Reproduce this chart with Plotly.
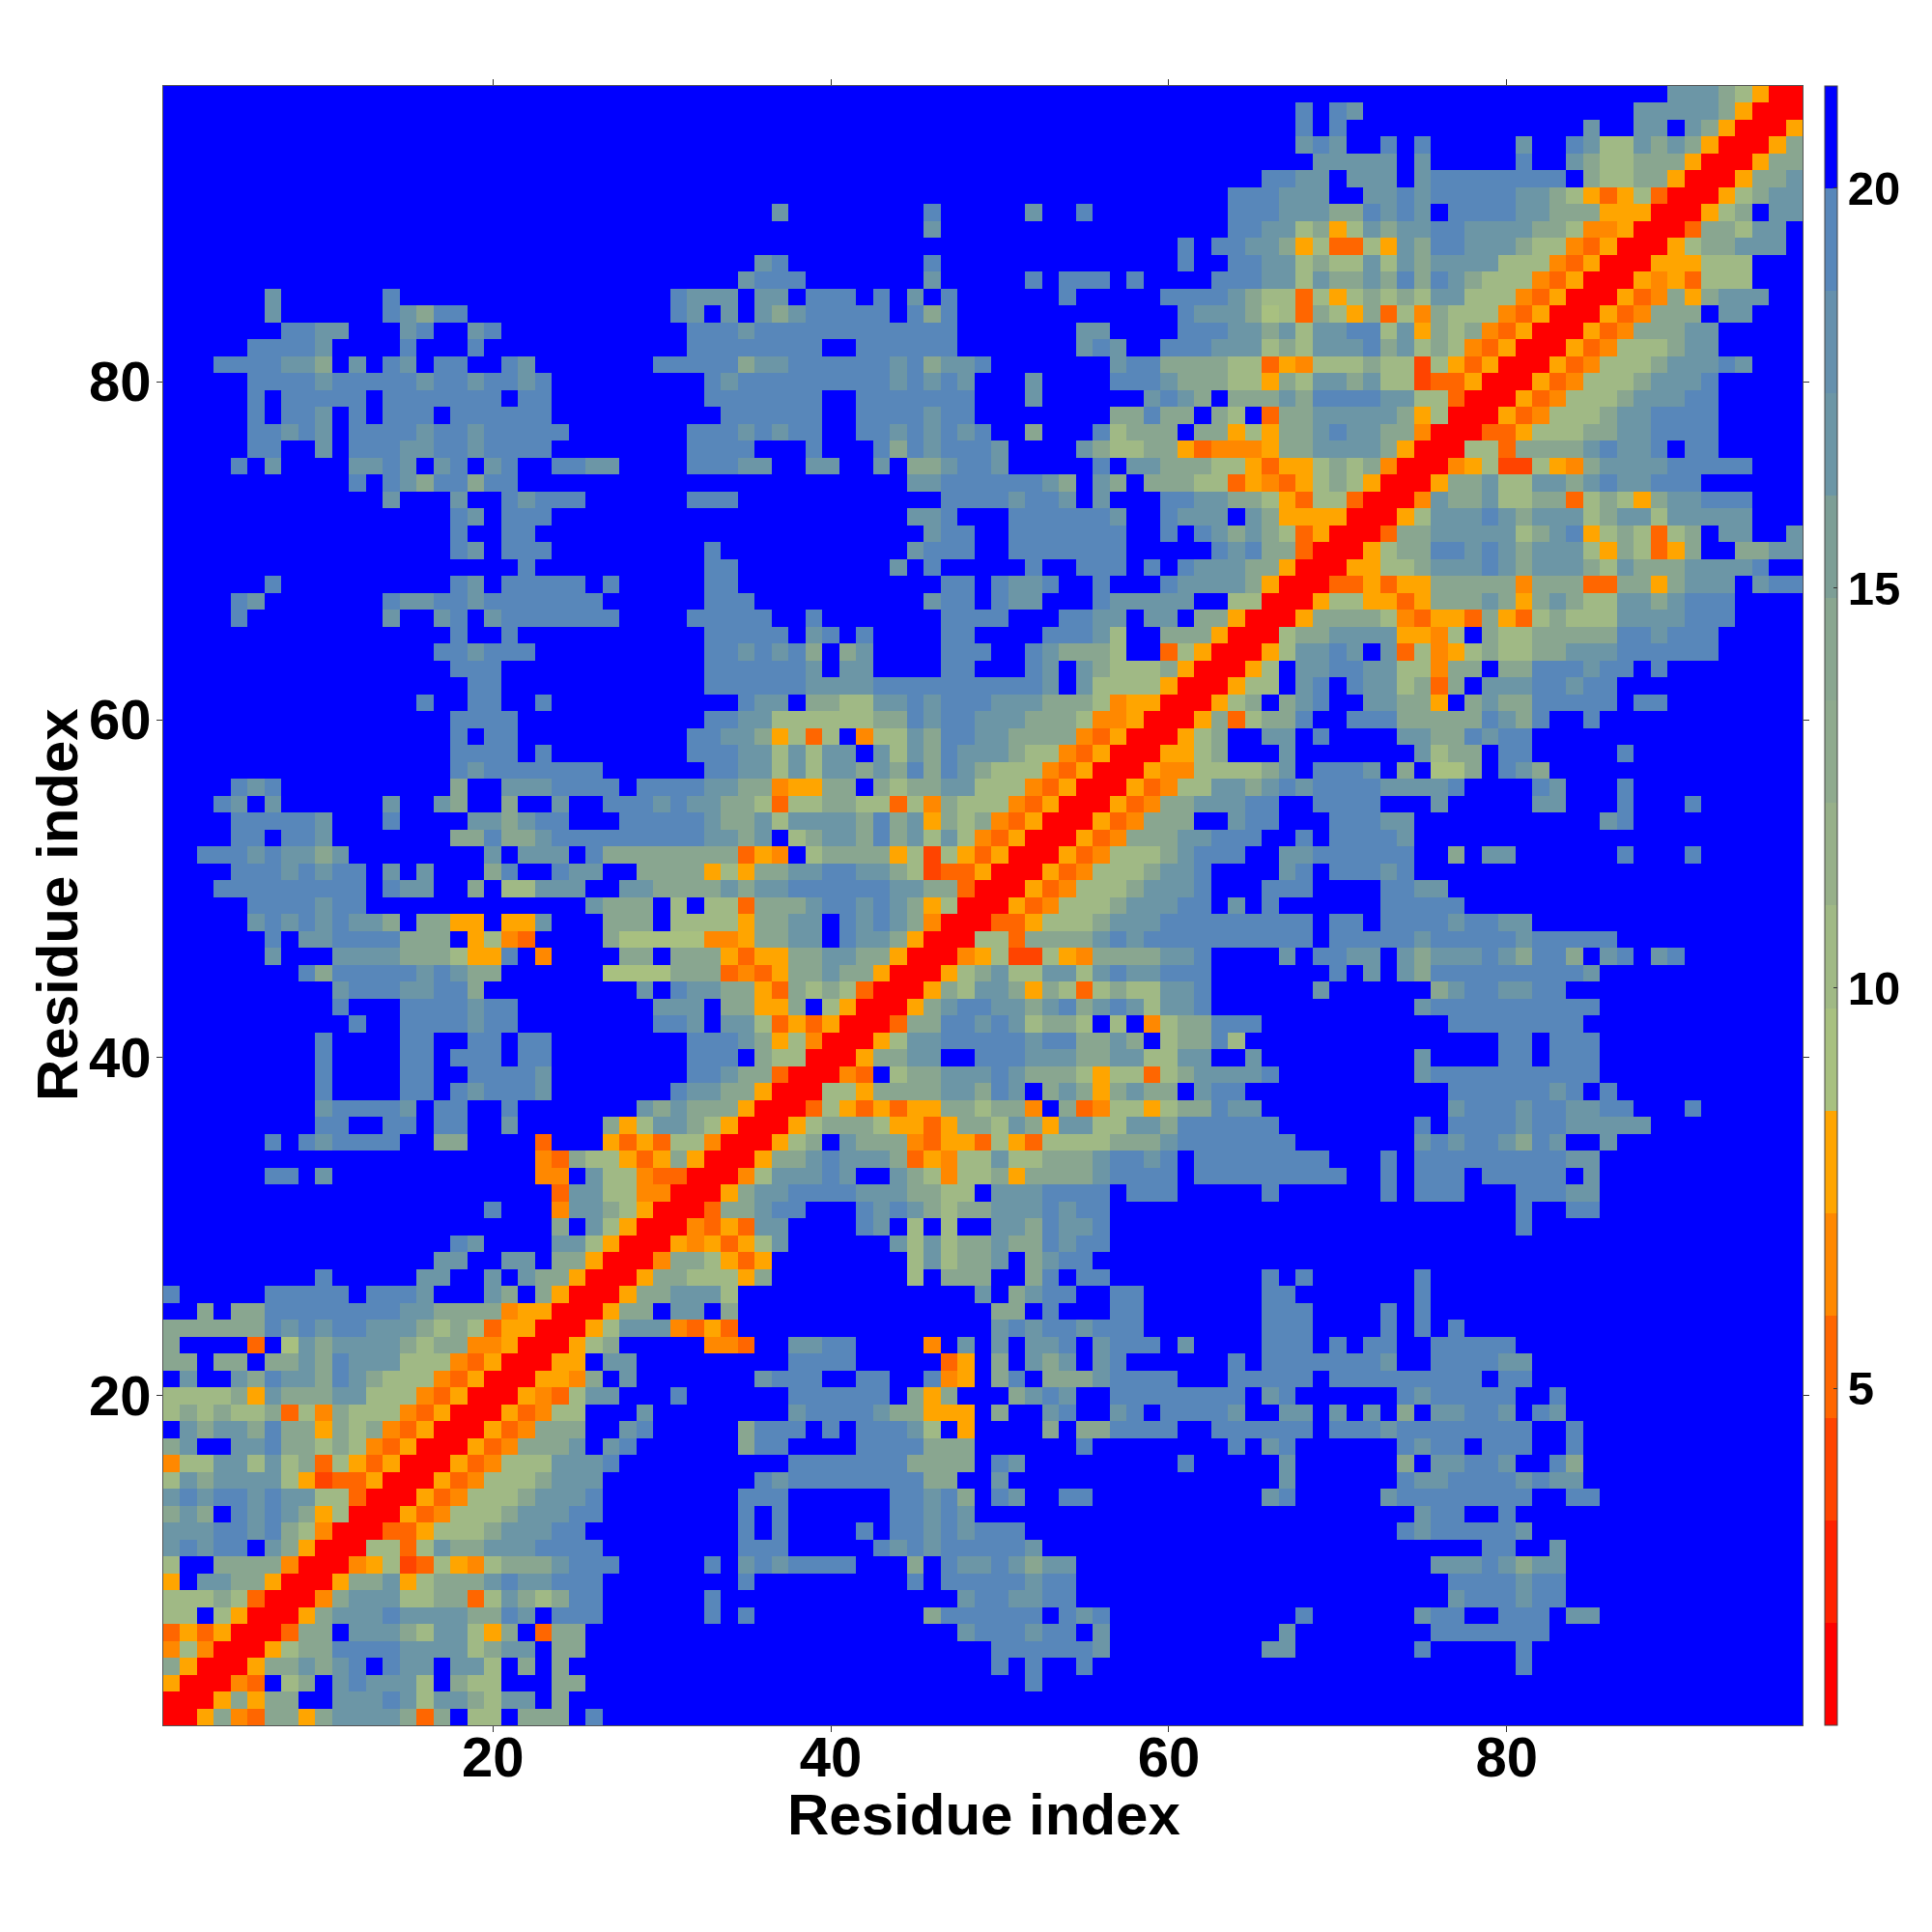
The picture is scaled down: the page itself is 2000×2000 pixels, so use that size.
import plotly.graph_objects as go

# Contact map: one string per row, top row (residue 97) first.
# Each character is a distance class, columns grouped by ten, "-" = ten far cells.
rows = [
"- - - - - - - - .........c cca8500",
"- - - - - - .......e.e c......... .......ccc cca5000",
"- - - - - - .......e.e - ....c..cc. ca50005",
"- - - - - - .......cec ..e.e..... c..ec88cac a50005a",
"- - - - - - ........cc ccc.c..... e..ca88aaa 50005aa",
"- - - - - - .....eecc. ccc.ceeeee eee.a88aa5 0005aac",
"- - - - - - ...eeeccc. .cceceeeee cca8535830 0058acc",
"- - - ......c... .....e.... .c..e..... ...eeeccca aecec.eeee ccaaa55500 058a.cc",
"- - - - .....c.... - ...eecc8a5 8cacceeccc caa8445000 3aa8cc.",
"- - - - - - e.eecca583 385caeeccc a884350005 8aaccc.",
"- - - .....ce... .....e.... - e..eecc8a8 8c8cacccc8 8843500055 5888...",
"- - - ....ceee.. .....c.... .e.eee.e.. ..eeecc8ca acaeaeca88 8435000545 3888...",
"......c... ...e...... - eccc.cc.ee e.e.c.e... ...e.....e eeeca88385 8a8a8cc888 435000534a 5accc..",
"......c... ...ecaee.. - ec.c.cacee eee.eae... - eccca783a8 5a384a8884 35000534aa a.cc...",
".......eec c...ce..ce - .eeeceeeee eeeeeee... ....cc.... eeeccac8cc ee8c5a8a43 5000534aaa cc.....",
".....eeeec ....e...e. - .eeeeeeee. .eeeeee... ....cec..e eeccc8a8cc ceac8a8435 000534888a cc.....",
"...eeeecca .c.ec.ee.. ec.......e eeeeacceee eeeceacce. ......ceea aaa8835488 8a88285350 00534888ac ccec...",
".....eeeec eeeeeceece ece....... ..eceeeeee eeececec.. .c....eeec aaa885a8cc ac88233500 0534888acc ce.....",
".....e.eee ee.eeeeeee .ee....... ..eeeeeee. .eeeeeee.. .c......ce ca.aaacaee eecc883000 534888accc ee.....",
".....e.eec .e.eee.eee eee....... ...eeeeee. .eeeecee.. ......aaea a.a8.3aacc ccca580005 34888accee ee.....",
".....eecec .eeeeceece eeee...... .eeececee. .eececece. .a...e8aaa .aa585aace ccaa400033 5888aaccee ee.....",
".....ee..c .eeecceece eee....... .eeee...e. ..eaeceeec ....ca88aa 534445aacc cca5000883 aaaacecce. ee.....",
"....e.c... .ccec.ce.c e..eecc... .eeecc..cc ..c.aaceec .....e.cca aa8853558a 8a40004582 2854acccce eeee...",
"- .e.ecaeeae e......... - ....cceeee eeca.ca.aa a88354358a 850005aac8 8ccaceccee e......",
"- ...c...c.. eceee..... .eee...... ......eeee ceec.c...e eccaa85388 30004caac8 8aa38a85ac ceee...",
"- .......ec. eee....... - ....cce... eeeeeec..e ccc.ca5555 00058cccec accc8acc8c cccc...",
"- .......e.. ee........ - .....cee.. eeeeeee..e .ecaca8350 003aaccccc 8ace58a838 a.cc..c",
"- .......ec. eee....... ..e....... ....ceee.. eeeeeee... ..eceaa300 058aaeecec accc85a835 a..aacc",
"- - .e........ ..ee...... ...c.e.... .e..eee.e. ecccaa5000 5588acccec accca8caaa cccce..",
"......e... .......ec. eeeee.e... ..ee...... ......ee.e cce..e...e cccca50003 35355aaaaa 4aaa33aa5a ccc.cee",
"....ec.... ...ecceece eeeeee.... ..eee..... .....cee.e cc...ecccc c..8800058 85535aaaca 5aca88ccac eee....",
"....e..... ...c..ce.c eeeeeee... .eeeee..e. ......eeee ...eecc.cc .aa50005aa aa843553a5 38a888cccc eee....",
"- .......e.. e......... ..eeeee.ce .e....ee.. ..eeec8..a aa50008aac ccc5548.a8 8aaaaaeece ee.....",
"- ......eece ee........ ..eececea. ac....eee. .ecaaa8..3 8500058cce c.c38458a8 8aaccceeee ee.....",
"- .......eee - ..eeeeeec. cc....ee.. .ec.ca888a 500058.cce ecc884aa.a aeeecee.e.",
"- ........ee - ..eeeeeecc cceeeeeeee eec.c88885 000588.ce. ecc8a3a.cc ceecee....",
"- .....e..ee ..e....... ....ecc.aa 88cceceeec ccaaa84550 0058a.ace. .ccaa5.aca aeeeee.ee.",
"- .......eee e......... ..eecc8888 88aaeceecc caaa844500 05a38aae.. eeeaaaaaec ae..e.....",
"- .......e.e e......... .eecca5838 .488caeecc aaaa435000 58a..cc.e. ...ccaaece e.........",
"- .......eee e.e....... .eeecc8c8c c.c8caeccc a884350005 58a...c... ....c8aa.e e.....e...",
"- .......ece eeeeee.... ..eecc8c8c cacaeaeca8 8843500054 48888ac.ee ec.a.77a.e ca........",
"....ece... .......a.. ccceeee.ee eeccaa455a a.a8aacc88 8435000534 88ccacecee eecccce... .ec...e...",
"...ec.c... ...c..ca.. a..c..eeec eccaa8388a a88384a888 435000534a acccee..ee ee...c.... .cc...e... e......",
"....eeeeec ...e....cc acee...eee eecaac8ccc caeac5a8a4 35000534aa a..cee...e eecc...... .....ce...",
"....ee.eec .......aae aaceeeeeee eeccac.8ac caeac8c843 5000534aaa cceee..e.e eeec......",
"..eeececca c........c .ccc.eaaaa aaaa354.8a aaa5828535 000534888a ceee..ccee eeee..a.cc ......e... e......",
"....eeecec ee.c.c...a e..ecc..aa aa585aacce ecca823350 00534888ac ce....ce.e eece......",
"...eeeeeee ee.ecc..a. 88ccc..cca aaacacceee eeeccaa300 0534888acc ce...eee.. ..eecc....",
".....eeeec ee........ .....caaa. 8.883aaace ececa58000 534888accc ee.c.e.... ..eeeee...",
".....cecec ecca.aa55. 55c...aaa. 88885aacc. ececa40003 35888accce eeeeeeee.e e.eeeeceec c.........",
"......e.cc eeeeaaa.58 43....a777 77445aacc. ecca500088 3aaaacecee eeeeeeee.e eeeeceeeee ceeeee....",
"......c... ccccaaa855 e.4....aa. aaa5355aac caa5000458 22854aaaac ce....c.ee cc.cacccec aeea.ce.ce",
"........ea eeeeececaa ......7777 aaa3435aac aa500058ac 88cc8cecce ee.......e .c.caeeeee eeeec.....",
"- ceeecceea. ........c. eccaa53a8a 830005a8cc a5a838a88c ce......c. .....aceec cee.......",
"- e...eeeece e........c cc.aa55a.8 50005aceec caceacec8c ce........ ....ceeeee eeeee.....",
"- .e..eeeece e........e ec.cc83535 0003aaeece c8aa8.8.48 aaeee..... ......eeee eeee......",
".........e ....ee..ee .ee....... .eeeca5840 0058cceeee eceeaaca.8 aae8...... .........e e.eee.....",
".........e ....ee.eee .ee....... .eee.a8800 05aacc..ee ecccaacc88 cc..c..... ....c....e e.eee.....",
".........e ....ee..ee eec....... .eecaa3000 43.8aaccce caaa858838 acccce.... ....ceeeee eeeee.....",
".........e ....ee.ece eec....... eccaa50008 85aaaaccae c.aca5acaa .cee...... ......eeee eece.e....",
".........c eeeec.ee.. e.......ca caaa500038 535355aa8a a4.a348858 aaecc..... ......ceee ceeccee... e......",
".........e e..ee.ee.. c.....a58c ca8500058a aa85535aa8 ca5cc88cca eeeeee.... ....e.eeee ceeccccc..",
"......e.ec eeee..aa.. ..3...5353 88400058a. caaa435538 538888aaac eeeeeee... ....ceceec aec..c....",
"- - ..43a88535 a50005aace ccca35488c 88aaaceece .eeeeeeee. ..e.eeeeee eeecc.....",
"......ee.c - ..44.c8843 300048ccce c..ca8488a 5aaaaceeee .eeeeeeeee ..e.eee.ee eee.c.....",
"- - ...3cc8844 0005acceee ecccaa88.c cceeee.eee .....e.... ..e.eee... eeecc.....",
"- .........e ...4cca850 003aacee.. .ececa8aac ccecee.... - - e..ee.....",
"- - ...a.c8500 04353cc... .ec.8.8..c caecce.... - - e.........",
"- .......ec. ...cc85000 545358c... ...c8c8aac aaecee....",
"- ......cc.. cc.aa50004 aa8535.... ....8c8aac .acee.....",
".........e .....cc..c .caa50005a a8885a.... ....8.aaa. .ae.ee.... .....e.e.. ....e.....",
"e.....eeee e.eeec...c a.a50005aa ccc8...... ........c. acee..ee.. .....ee... ....e.....",
"..a.aaeeee eeeeccaaaa 4550005aa. cc.a...... .........a a.e...ee.. .....eee.. ..e.e.....",
"aaaaaaecec eeccca8a83 5500058ccc 4353...... .........c eceeceee.. .....eee.. ..e.e.e...",
"a....3.7ca cccca8aa44 500058a... ..443..cce e....4.c.c .cce.ceee. c....eee.e .ee..eeeee",
"aa.aa.aaca eccc888435 00055.cc.. .......eee e.....35.a .cac.ce... ...e.eeeee eec..eeeec c.........",
".c..caecca eca8884350 00554a.c.. .....ceee. .ee..e45.a e.aaaceeee ...eeeee.e eeeeeeee.e e.........",
"8888a5caaa cc88843500 05438cc... e......eee eee.a5a... acec..eeee eeee.ce... ...eceeeee ..e.......",
"8a8a88a384 a888435000 53488...c. .......cee eecaa555.a ..ce..ce.e eeec..cc.c .c.a.cceec .ec.......",
".caccaeaa5 a8a4350005 34aaa..ce. ....aeee.e .eeec8.5.. ..a.aaeeee ..eeeeee.e eeceeeeeee e..e......",
"ac..cceaa8 a843500053 4aaac.ce.. ....aee... .eeeeaaa.. ....e..... ...e.ce... ...ecee.ee e..e......",
"488cc8c8a3 8535000534 888ccce... .......eee eeeeaaaa.e c......... e.....c... ...a.cceec ..ea......",
"8cacccc852 3350005348 88accc.... .....eceee eeeeeaa..c - ......c... ...ecceeee cecc......",
"ceceececc8 8300053488 8accce.... ....eee... ...eecea.e c..ee..... .....ce... ..ceeeeeee e..ee.....",
"aca.ececa5 8000534888 acccee.... ....e.e... ...eecec.. - - ....cee..e",
"ccceecea84 000335888a cccee..... ....e.e... .e.eececee e......... - ...eceeeee c.........",
"cecee.ca50 008838caac cceeee.... ....eee... ..ececeeee ec........ - ........ee ..c.......",
"8..aaaa400 0458238548 aaaceee... ..e.ceceee e...a.ecce cacc...... - .....cccec acc.......",
"5.ccaa5000 5aac58aaac ecceee.... ....e..... ....e.eeee ecee...... - ......eeee cee.......",
"888a830004 accc88aa38 ca8aee.... ..e....... .......cee ccee...... - ......ceee cee.......",
"88.850005a ccceccccaa ec.eee.... ..e.e..... .....aeeee ee.ece.... .......e.. ....cee..e ee.cc.....",
"35350003aa .ccca8cc85 a.3aa..... - .......cee ecee.c.... ......c... .....eeeee ee........",
"48400058aa eeeecccc8a cc.aa..... - .........e eeeeec.... .....cc... ....e..... e.........",
"a50005aaca ce.ecc.cc8 .a.a...... - .........e .e..e..... - - e.........",
"500043.8a. ceccc8.a88 ...aa..... - - .e........",
"0005a5aa.. cccec8cca8 cc.a......",
"005a43aa5a cccca3a.88 .aaa.e....",
]

# distance (angstrom) assigned to each class character
distance = {"0": 1.4, "2": 4.0, "3": 5.3, "4": 6.5, "5": 7.8, "7": 9.1, "8": 10.4,
            "a": 14.0, "c": 16.8, "e": 19.4, ".": 21.0}

residues = list(range(1, 98))
tick_x = [20, 40, 60, 80]
tick_bar = [5, 10, 15, 20]
axis_label = "Residue index"
band_colors = ["#ff0000", "#ff2200", "#ff4400", "#ff6600", "#ff8800", "#ffa500",
               "#a8c080", "#a0b985", "#97b089", "#8faa8e", "#89a690", "#7d9e96",
               "#6c96a6", "#6590ad", "#5887ba", "#0000ff"]
z_low, z_high = 0.785, 21.28


def decode(row):
    groups = row.split(" ")
    text = ""
    for g in groups:
        if g == "-":
            g = "." * 10
        if len(text) < 90 and len(g) != 10:
            raise ValueError("bad group %r in %r" % (g, row))
        text += g
    text = text.ljust(97, ".")
    if len(text) != 97:
        raise ValueError("bad row %r" % row)
    return [distance[ch] for ch in text]


z = [decode(r) for r in rows][::-1]
if len(z) != 97:
    raise ValueError("rows: %d" % len(z))

scale = []
for i, c in enumerate(band_colors):
    scale.append([i / len(band_colors), c])
    scale.append([(i + 1) / len(band_colors), c])

FONT = "Liberation Sans"
fig = go.Figure(go.Heatmap(
    x=residues, y=residues, z=z, zmin=z_low, zmax=z_high, colorscale=scale,
    zsmooth=False, hoverongaps=False,
    colorbar=dict(
        thicknessmode="pixels", thickness=13, lenmode="pixels", len=1697,
        x=1.0136, xanchor="left", xpad=0, y=1, yanchor="top", ypad=0,
        outlinewidth=1, outlinecolor="#444444", tickvals=tick_bar,
        ticks="inside", ticklen=4, tickwidth=1, tickcolor="#333333",
        tickfont=dict(family=FONT, size=49, color="black", weight="bold"),
    ),
))
axis = dict(
    range=[0.5, 97.5], tickvals=tick_x, ticks="outside", ticklen=6, tickwidth=1,
    tickcolor="#333333", showline=True, linecolor="#555555", linewidth=1, mirror="ticks",
    showgrid=False, zeroline=False,
    tickfont=dict(family=FONT, size=58, color="black", weight="bold"),
)
title_font = dict(family=FONT, size=60, color="black", weight="bold")
fig.update_layout(
    width=2000, height=2000, autosize=False, paper_bgcolor="white", plot_bgcolor="white",
    margin=dict(l=161, r=142, t=81, b=222),
    xaxis=dict(axis, ticklabelstandoff=-24),
    yaxis=dict(axis, ticklabelstandoff=-6),
    annotations=[
        dict(text=axis_label, xref="paper", yref="paper", x=0.5003, y=-0.0548,
             xanchor="center", yanchor="middle", showarrow=False, font=title_font),
        dict(text=axis_label, xref="paper", yref="paper", x=-0.0642, y=0.5003,
             xanchor="center", yanchor="middle", textangle=-90, showarrow=False, font=title_font),
    ],
)
fig.write_html("out.html")
